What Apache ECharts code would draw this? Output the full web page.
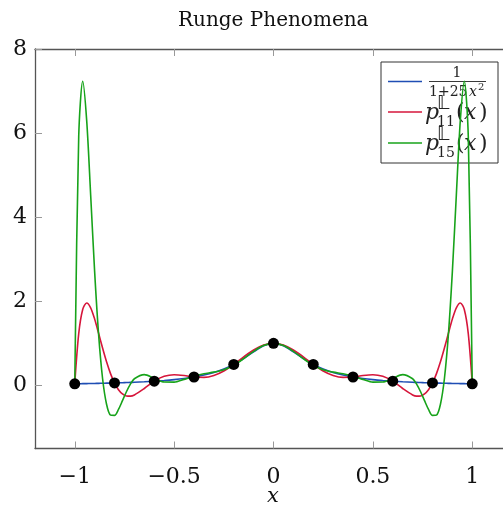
<!DOCTYPE html>
<html>
<head>
<meta charset="utf-8">
<style>html,body{margin:0;padding:0;background:#fff}#c{width:503px;height:506px}</style>
<script src="https://cdn.jsdelivr.net/npm/echarts@6/dist/echarts.min.js"></script>
</head>
<body>
<div id="c"></div>
<script>
const xs = [-1,-0.98,-0.96,-0.94,-0.92,-0.9,-0.88,-0.86,-0.84,-0.82,-0.8,-0.78,-0.76,-0.74,-0.72,-0.7,-0.65,-0.6,-0.55,-0.5,-0.45,-0.4,-0.35,-0.3,-0.25,-0.2,-0.15,-0.1,-0.05,0,0.05,0.1,0.15,0.2,0.25,0.3,0.35,0.4,0.45,0.5,0.55,0.6,0.65,0.7,0.72,0.74,0.76,0.78,0.8,0.82,0.84,0.86,0.88,0.9,0.92,0.94,0.96,0.98,1];
const runge = [0.0385,0.04,0.0416,0.0433,0.0451,0.0471,0.0491,0.0513,0.0536,0.0561,0.0588,0.0617,0.0648,0.0681,0.0716,0.0755,0.0865,0.1,0.1168,0.1379,0.1649,0.2,0.2462,0.3077,0.3902,0.5,0.64,0.8,0.9412,1,0.9412,0.8,0.64,0.5,0.3902,0.3077,0.2462,0.2,0.1649,0.1379,0.1168,0.1,0.0865,0.0755,0.0716,0.0681,0.0648,0.0617,0.0588,0.0561,0.0536,0.0513,0.0491,0.0471,0.0451,0.0433,0.0416,0.04,0.0385];
const p11 = [0.0385,1.2303,1.8044,1.9589,1.8458,1.5787,1.2402,0.888,0.5604,0.2802,0.0588,-0.1007,-0.2013,-0.2496,-0.2546,-0.2262,-0.0726,0.1,0.2156,0.2538,0.235,0.2,0.1906,0.2353,0.3426,0.5,0.679,0.8434,0.9586,1,0.9586,0.8434,0.679,0.5,0.3426,0.2353,0.1906,0.2,0.235,0.2538,0.2156,0.1,-0.0726,-0.2262,-0.2546,-0.2496,-0.2013,-0.1007,0.0588,0.2802,0.5604,0.888,1.2402,1.5787,1.8458,1.9589,1.8044,1.2303,0.0385];
const p15 = [0.0385,5.9231,7.2333,6.3021,4.5344,2.7129,1.2137,0.1644,-0.4481,-0.7056,-0.713,-0.5711,-0.3633,-0.1502,0.0302,0.1593,0.2564,0.1677,0.0799,0.078,0.144,0.2218,0.2768,0.3159,0.3736,0.4803,0.6372,0.811,0.948,1,0.948,0.811,0.6372,0.4803,0.3736,0.3159,0.2768,0.2218,0.144,0.078,0.0799,0.1677,0.2564,0.1593,0.0302,-0.1502,-0.3633,-0.5711,-0.713,-0.7056,-0.4481,0.1644,1.2137,2.7129,4.5344,6.3021,7.2333,5.9231,0.0385];
const nodeX = [-1,-0.8,-0.6,-0.4,-0.2,0,0.2,0.4,0.6,0.8,1];
const nodeY = [0.0385,0.0588,0.1,0.2,0.5,1,0.5,0.2,0.1,0.0588,0.0385];
const xTicks = [-1,-0.5,0,0.5,1];
const yTicks = [0,2,4,6,8];

const SERIF = '"DejaVu Serif", serif';
const chart = echarts.init(document.getElementById('c'), null, {renderer: 'canvas'});
const fmt = v => String(v).replace('-', '\u2212');
const lw = 1.6;
const pairs = arr => xs.map((x, i) => [x, arr[i]]);

function txt(text, x, y, size, opts) {
  opts = opts || {};
  return {type: 'text', style: {
    text: text, x: x, y: y, fontSize: size,
    fontFamily: opts.family || SERIF, fontStyle: opts.italic ? 'italic' : 'normal',
    fill: opts.fill || '#222', align: opts.align || 'left', verticalAlign: opts.va || 'middle'
  }};
}
function pLabel(y, sub) {
  return [
    txt('p', 425, y, 22, {italic: true}),
    txt('\u{1D543}', 437, y - 9, 19, {family: '"DejaVu Sans", "Noto Sans", sans-serif'}),
    txt(sub, 437, y + 9, 14),
    txt('(', 456, y, 22),
    txt('x', 464, y, 22, {italic: true}),
    txt(')', 479, y, 22)
  ];
}

const option = {
  animation: false,
  backgroundColor: '#fff',
  title: {
    text: 'Runge Phenomena', left: 173, top: 6,
    textStyle: {fontFamily: SERIF, fontSize: 20, fontWeight: 'normal', color: '#111'}
  },
  grid: {left: 35, right: -9, top: 49, bottom: 57.5, containLabel: false, outerBoundsMode: 'none'},
  xAxis: [{
    type: 'value', min: -1.2, max: 1.2, position: 'bottom',
    axisLine: {show: true, onZero: false, lineStyle: {color: '#555', width: 1.3}},
    axisTick: {show: true, inside: true, length: 7, customValues: xTicks, lineStyle: {color: '#999', width: 1}},
    axisLabel: {customValues: xTicks, formatter: fmt, margin: 18, fontFamily: SERIF, fontSize: 22, color: '#111'},
    splitLine: {show: false}
  }, {
    type: 'value', min: -1.2, max: 1.2, position: 'top',
    axisLine: {show: true, onZero: false, lineStyle: {color: '#555', width: 1.3}},
    axisTick: {show: true, inside: true, length: 7, customValues: xTicks, lineStyle: {color: '#999', width: 1}},
    axisLabel: {show: false},
    splitLine: {show: false}
  }],
  yAxis: [{
    type: 'value', min: -1.5, max: 8, position: 'left',
    axisLine: {show: true, onZero: false, lineStyle: {color: '#555', width: 1.3}},
    axisTick: {show: true, inside: true, length: 7, customValues: yTicks, lineStyle: {color: '#999', width: 1}},
    axisLabel: {customValues: yTicks, formatter: fmt, margin: 8, fontFamily: SERIF, fontSize: 22, color: '#111'},
    splitLine: {show: false}
  }],
  series: [
    {name: 'runge', type: 'line', data: pairs(runge), showSymbol: false, smooth: 0.3,
     lineStyle: {color: '#1f4eb4', width: lw}, itemStyle: {color: '#1f4eb4'}, z: 2},
    {name: 'p11', type: 'line', data: pairs(p11), showSymbol: false, smooth: 0.3,
     lineStyle: {color: '#d6163b', width: lw}, itemStyle: {color: '#d6163b'}, z: 3},
    {name: 'p15', type: 'line', data: pairs(p15), showSymbol: false, smooth: 0.3,
     lineStyle: {color: '#17a31a', width: lw}, itemStyle: {color: '#17a31a'}, z: 4},
    {name: 'nodes', type: 'scatter', data: nodeX.map((x, i) => [x, nodeY[i]]), symbolSize: 11,
     itemStyle: {color: '#000', opacity: 1}, z: 5}
  ],
  graphic: [
    txt('x', 273, 497, 21, {italic: true, align: 'center', fill: '#111'}),
    {type: 'group', z: 100, children: [
      {type: 'rect', shape: {x: 381, y: 62, width: 117, height: 101}, style: {fill: '#fff', stroke: '#333', lineWidth: 1}},
      {type: 'line', shape: {x1: 388, y1: 81.5, x2: 422, y2: 81.5}, style: {stroke: '#1f4eb4', lineWidth: lw}},
      txt('1', 457, 73, 14, {align: 'center'}),
      {type: 'line', shape: {x1: 429, y1: 81.5, x2: 486, y2: 81.5}, style: {stroke: '#222', lineWidth: 0.9}},
      txt('1+25', 429, 92, 14),
      txt('x', 469, 92, 14, {italic: true}),
      txt('2', 478, 87, 10),
      {type: 'line', shape: {x1: 388, y1: 112, x2: 422, y2: 112}, style: {stroke: '#d6163b', lineWidth: lw}},
      ...pLabel(113, '11'),
      {type: 'line', shape: {x1: 388, y1: 143, x2: 422, y2: 143}, style: {stroke: '#17a31a', lineWidth: lw}},
      ...pLabel(144, '15')
    ]}
  ]
};
chart.setOption(option);
</script>
</body>
</html>
